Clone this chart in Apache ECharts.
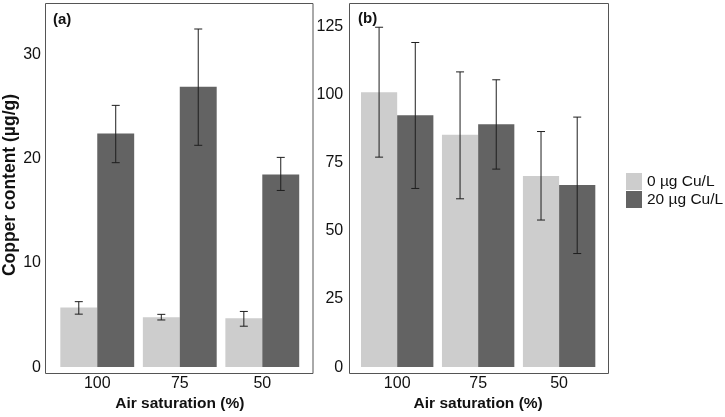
<!DOCTYPE html>
<html><head><meta charset="utf-8">
<script src="https://cdn.jsdelivr.net/npm/echarts@6/dist/echarts.min.js"></script>
<style>html,body{margin:0;padding:0;background:#fff}#c{width:725px;height:417px}</style>
</head><body><div id="c"></div>
<script>
const categories = ['100', '75', '50'];
const seriesNames = ['0 µg Cu/L', '20 µg Cu/L'];
// Panel (a): copper content (µg/g)
const a_ctrl    = [5.73, 4.78, 4.69];
const a_ctrl_lo = [5.09, 4.53, 3.93];
const a_ctrl_hi = [6.29, 5.07, 5.35];
const a_cu      = [22.45, 26.95, 18.52];
const a_cu_lo   = [19.65, 21.32, 16.98];
const a_cu_hi   = [25.16, 32.5, 20.16];
// Panel (b)
const b_ctrl    = [100.9, 85.3, 70.2];
const b_ctrl_lo = [77.1, 61.8, 54.0];
const b_ctrl_hi = [124.8, 108.4, 86.5];
const b_cu      = [92.5, 89.2, 66.9];
const b_cu_lo   = [65.6, 72.7, 41.7];
const b_cu_hi   = [119.2, 105.5, 91.8];

const FONT = 'Liberation Sans, Arial, sans-serif';
const LIGHT = '#cdcdcd', DARK = '#636363';
const gapA = 0.105, gapB = 0.106;

function errData(lo, hi){ return lo.map((v,i)=>[i, v, hi[i]]); }
function errRender(side, gapFrac){
  return function(params, api){
    const i = api.value(0);
    const lo = api.coord([i, api.value(1)]);
    const hi = api.coord([i, api.value(2)]);
    const band = api.size([1,0])[0];
    const x = lo[0] + side * band * (1 - gapFrac) / 4;
    const cap = 4;
    const st = {stroke:'#1e1e1e', lineWidth:1};
    return {type:'group', children:[
      {type:'line', shape:{x1:x, y1:hi[1], x2:x, y2:lo[1]}, style:st},
      {type:'line', shape:{x1:x-cap, y1:hi[1], x2:x+cap, y2:hi[1]}, style:st},
      {type:'line', shape:{x1:x-cap, y1:lo[1], x2:x+cap, y2:lo[1]}, style:st}
    ]};
  };
}

const chart = echarts.init(document.getElementById('c'));
const txt = {color:'#111', fontFamily: FONT};
function xAx(gi){ return {
  type:'category', gridIndex:gi, data:categories,
  axisLine:{show:false}, axisTick:{show:false},
  axisLabel:Object.assign({fontSize:16, margin:8}, txt),
  name:'Air saturation (%)', nameLocation:'middle', nameGap:25,
  nameTextStyle:Object.assign({fontSize:15.5, fontWeight:'bold'}, txt)
};}
chart.setOption({
  animation:false,
  textStyle:{fontFamily:FONT},
  legend:{
    orient:'vertical', left:626, top:173, padding:0, itemWidth:16, itemHeight:17, itemGap:1,
    icon:'rect', data:seriesNames,
    textStyle:Object.assign({fontSize:15.5}, txt)
  },
  graphic:[
    {type:'rect', shape:{x:45.5, y:3.5, width:267.5, height:370}, style:{fill:'none', stroke:'#555', lineWidth:1}, z:10},
    {type:'rect', shape:{x:349.5, y:3.5, width:259, height:370}, style:{fill:'none', stroke:'#555', lineWidth:1}, z:10},
    {type:'text', left:53, top:12, style:{text:'(a)', fill:'#111', font:'bold 15px '+FONT}},
    {type:'text', left:358, top:11, style:{text:'(b)', fill:'#111', font:'bold 15px '+FONT}}
  ],
  grid:[
    {left:52.95, width:250.6, top:3, bottom:43},
    {left:356.7, width:242.9, top:3, bottom:43}
  ],
  xAxis:[xAx(0), xAx(1)],
  yAxis:[
    {type:'value', gridIndex:0, min:0, max:35, interval:10,
     axisLine:{show:false}, axisTick:{show:false}, splitLine:{show:false},
     axisLabel:Object.assign({fontSize:16, margin:15, showMaxLabel:false}, txt),
     name:'Copper content (µg/g)', nameLocation:'middle', nameGap:37,
     nameTextStyle:Object.assign({fontSize:17.5, fontWeight:'bold'}, txt)},
    {type:'value', gridIndex:1, min:0, max:133.7, interval:25,
     axisLine:{show:false}, axisTick:{show:false}, splitLine:{show:false},
     axisLabel:Object.assign({fontSize:16, margin:13.5, showMaxLabel:false}, txt)}
  ],
  series:[
    {name:seriesNames[0], type:'bar', xAxisIndex:0, yAxisIndex:0, data:a_ctrl, itemStyle:{color:LIGHT}, barGap:'0%', barCategoryGap:(gapA*100)+'%'},
    {name:seriesNames[1], type:'bar', xAxisIndex:0, yAxisIndex:0, data:a_cu, itemStyle:{color:DARK}, barGap:'0%', barCategoryGap:(gapA*100)+'%'},
    {name:seriesNames[0], type:'bar', xAxisIndex:1, yAxisIndex:1, data:b_ctrl, itemStyle:{color:LIGHT}, barGap:'0%', barCategoryGap:(gapB*100)+'%'},
    {name:seriesNames[1], type:'bar', xAxisIndex:1, yAxisIndex:1, data:b_cu, itemStyle:{color:DARK}, barGap:'0%', barCategoryGap:(gapB*100)+'%'},
    {type:'custom', xAxisIndex:0, yAxisIndex:0, data:errData(a_ctrl_lo, a_ctrl_hi), renderItem:errRender(-1, gapA), encode:{x:0, y:[1,2]}, z:5},
    {type:'custom', xAxisIndex:0, yAxisIndex:0, data:errData(a_cu_lo, a_cu_hi), renderItem:errRender(1, gapA), encode:{x:0, y:[1,2]}, z:5},
    {type:'custom', xAxisIndex:1, yAxisIndex:1, data:errData(b_ctrl_lo, b_ctrl_hi), renderItem:errRender(-1, gapB), encode:{x:0, y:[1,2]}, z:5},
    {type:'custom', xAxisIndex:1, yAxisIndex:1, data:errData(b_cu_lo, b_cu_hi), renderItem:errRender(1, gapB), encode:{x:0, y:[1,2]}, z:5}
  ]
});
</script></body></html>
